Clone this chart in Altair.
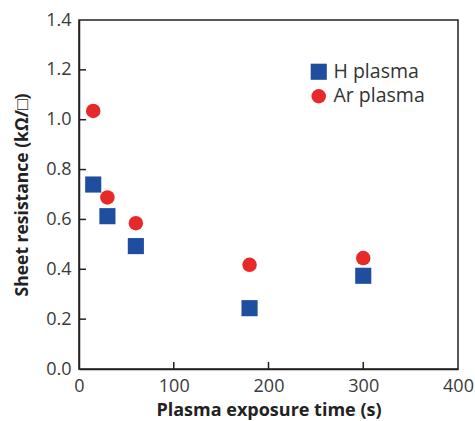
import altair as alt
import pandas as pd

times = [15, 30, 60, 180, 300]
h_plasma = [0.74, 0.613, 0.493, 0.244, 0.374]
ar_plasma = [1.035, 0.688, 0.585, 0.418, 0.445]
series_names = ["H plasma", "Ar plasma"]
x_ticks = [100, 200, 300]
y_ticks = [0.2, 0.4, 0.6, 0.8, 1.0, 1.2]

df = pd.DataFrame(
    {"time": times * 2,
     "R": h_plasma + ar_plasma,
     "series": [series_names[0]] * len(times) + [series_names[1]] * len(times)}
)

FONT = "Open Sans"
INK = "#231f20"

pts = alt.Chart(df).mark_point(filled=True, opacity=1, strokeWidth=0).encode(
    x=alt.X("time:Q", scale=alt.Scale(domain=[0, 400], nice=False),
            axis=alt.Axis(title="Plasma exposure time (s)", values=[0, 100, 200, 300, 400],
                          ticks=False, grid=False, labelPadding=8, labelFlush=False,
                          titleFontSize=18)),
    y=alt.Y("R:Q", scale=alt.Scale(domain=[0, 1.4], nice=False),
            axis=alt.Axis(title="Sheet resistance (kΩ/□)", values=[0, 0.2, 0.4, 0.6, 0.8, 1.0, 1.2, 1.4],
                          format=".1f", ticks=False, grid=False, labelPadding=8, labelFlush=False,
                          titleFontSize=17.5)),
    color=alt.Color("series:N", scale=alt.Scale(domain=series_names, range=["#1f4e9e", "#e8292a"]),
                    legend=alt.Legend(title=None, orient="none", legendX=230, legendY=42,
                                      symbolSize=175, labelFontSize=19.5, labelFont=FONT,
                                      labelColor="#333333", rowPadding=3.5, labelOffset=5)),
    shape=alt.Shape("series:N", scale=alt.Scale(domain=series_names, range=["square", "circle"]),
                    legend=None),
    size=alt.Size("series:N", scale=alt.Scale(domain=series_names, range=[260, 210]), legend=None),
)

xt = alt.Chart(pd.DataFrame({"t": x_ticks})).mark_rule(color=INK, strokeWidth=1.5).encode(
    x="t:Q", y=alt.value(349), y2=alt.value(342))
yt = alt.Chart(pd.DataFrame({"t": y_ticks})).mark_rule(color=INK, strokeWidth=1.5).encode(
    y="t:Q", x=alt.value(0), x2=alt.value(7))

chart = alt.layer(xt, yt, pts).properties(
    width=379, height=349,
    autosize=alt.AutoSizeParams(type="none"),
    padding={"left": 79, "top": 20, "right": 17, "bottom": 52},
).configure_view(stroke=INK, strokeWidth=1.5).configure_axis(
    domainColor=INK, domainWidth=1.5, labelFont=FONT, labelFontSize=18, labelColor="#3a3a3a",
    titleFont=FONT, titleFontWeight="bold", titleColor="#222222",
).configure_axisY(titlePadding=14).configure_axisX(titlePadding=6)

chart.save("out.html", embed_options={"renderer": "svg", "actions": False})
